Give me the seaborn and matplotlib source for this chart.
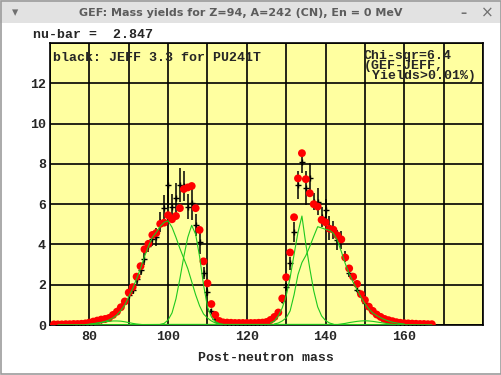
import matplotlib
matplotlib.use("Agg")
import matplotlib.pyplot as plt
import seaborn as sns
import pandas as pd
from matplotlib.patches import Rectangle

# GEF calculation (red dots)
gef_mass = list(range(71, 168))
gef_yield = [0.03, 0.03, 0.03, 0.04, 0.04, 0.05, 0.05, 0.06, 0.08, 0.12,
             0.17, 0.22, 0.27, 0.30, 0.35, 0.50, 0.66, 0.88, 1.17, 1.61,
             1.88, 2.40, 2.92, 3.76, 4.03, 4.47, 4.57, 5.02, 5.08, 5.45,
             5.25, 5.41, 5.80, 6.75, 6.83, 6.90, 5.80, 4.72, 3.16, 2.07,
             1.04, 0.50, 0.20, 0.13, 0.12, 0.11, 0.10, 0.10, 0.10, 0.10,
             0.10, 0.10, 0.11, 0.12, 0.15, 0.25, 0.40, 0.62, 1.32, 2.37,
             3.60, 5.35, 7.28, 8.53, 7.24, 6.54, 6.00, 5.88, 5.22, 5.10,
             4.78, 4.73, 4.45, 4.25, 3.35, 2.81, 2.40, 2.04, 1.53, 1.24,
             0.91, 0.70, 0.52, 0.40, 0.30, 0.24, 0.19, 0.14, 0.11, 0.09,
             0.08, 0.07, 0.06, 0.05, 0.05, 0.04, 0.04]

# JEFF 3.3 evaluation (black crosses with error bars)
jeff_mass = list(range(72, 166))
jeff_yield = [0.01, 0.01, 0.02, 0.02, 0.03, 0.03, 0.04, 0.06, 0.08, 0.12,
              0.18, 0.24, 0.30, 0.38, 0.55, 0.75, 0.95, 1.18, 1.50, 1.74,
              2.27, 2.75, 3.30, 3.90, 4.25, 4.35, 5.13, 5.80, 6.95, 5.86,
              6.30, 6.95, 6.90, 5.88, 6.08, 4.97, 4.13, 2.60, 1.65, 0.70,
              0.30, 0.20, 0.15, 0.12, 0.10, 0.08, 0.06, 0.05, 0.05, 0.05,
              0.06, 0.08, 0.10, 0.15, 0.25, 0.35, 0.66, 1.24, 1.90, 3.06,
              4.60, 6.95, 8.11, 6.80, 7.30, 6.13, 6.13, 5.38, 5.71, 4.80,
              4.72, 4.22, 4.22, 3.40, 2.57, 2.40, 1.74, 1.50, 1.08, 0.83,
              0.66, 0.50, 0.36, 0.30, 0.25, 0.20, 0.15, 0.12, 0.10, 0.08,
              0.06, 0.05, 0.04, 0.03]
jeff_err = [0.01, 0.01, 0.01, 0.01, 0.01, 0.01, 0.01, 0.01, 0.01, 0.01,
            0.02, 0.02, 0.03, 0.04, 0.05, 0.07, 0.10, 0.12, 0.15, 0.20,
            0.25, 0.25, 0.30, 0.30, 0.35, 0.45, 0.50, 0.65, 1.15, 0.65,
            0.75, 0.83, 0.75, 0.62, 0.87, 0.54, 0.62, 0.30, 0.20, 0.10,
            0.05, 0.03, 0.02, 0.02, 0.02, 0.02, 0.02, 0.02, 0.02, 0.02,
            0.02, 0.02, 0.02, 0.03, 0.04, 0.05, 0.08, 0.15, 0.20, 0.33,
            0.50, 0.70, 0.58, 0.83, 0.75, 0.40, 0.66, 0.50, 0.54, 0.60,
            0.46, 0.50, 0.46, 0.25, 0.20, 0.15, 0.12, 0.10, 0.08, 0.06,
            0.05, 0.04, 0.03, 0.03, 0.02, 0.02, 0.02, 0.02, 0.01, 0.01,
            0.01, 0.01, 0.01, 0.01]

# fission mode components (green lines)
s2_light_mass = list(range(80, 114))
s2_light = [0.03, 0.05, 0.08, 0.12, 0.18, 0.25, 0.35, 0.50, 0.72, 1.00,
            1.40, 1.80, 2.30, 2.80, 3.40, 3.90, 4.35, 4.60, 4.90, 5.10,
            5.17, 4.85, 4.35, 3.80, 3.30, 2.80, 2.15, 1.50, 0.95, 0.55,
            0.35, 0.20, 0.10, 0.05]
s1_light_mass = list(range(98, 115))
s1_light = [0.03, 0.08, 0.25, 0.60, 1.30, 2.30, 3.40, 4.35, 4.95, 4.50,
            3.40, 2.00, 0.90, 0.40, 0.17, 0.07, 0.03]
s3_light_mass = list(range(79, 95))
s3_light = [0.02, 0.04, 0.07, 0.10, 0.13, 0.16, 0.18, 0.20, 0.20, 0.19,
            0.16, 0.12, 0.08, 0.05, 0.03, 0.01]
s1_heavy_mass = list(range(126, 143))
s1_heavy = [0.10, 0.20, 0.45, 0.85, 1.45, 2.35, 3.50, 4.60, 5.41, 4.00,
            2.80, 1.70, 0.90, 0.45, 0.22, 0.10, 0.04]
s2_heavy_mass = list(range(127, 161))
s2_heavy = [0.05, 0.10, 0.20, 0.35, 0.70, 1.50, 2.50, 3.10, 3.45, 3.90,
            4.40, 4.88, 4.82, 4.75, 4.70, 4.55, 4.20, 3.65, 3.05, 2.55,
            2.12, 1.75, 1.38, 1.05, 0.80, 0.60, 0.47, 0.36, 0.27, 0.20,
            0.14, 0.10, 0.07, 0.05]
s3_heavy_mass = list(range(143, 160))
s3_heavy = [0.02, 0.05, 0.08, 0.12, 0.15, 0.18, 0.20, 0.21, 0.20, 0.18,
            0.15, 0.12, 0.09, 0.06, 0.04, 0.02, 0.01]
sl_mass = [72, 90, 100, 110, 120, 130, 140, 150, 167]
sl_yield = [0.01, 0.02, 0.03, 0.03, 0.03, 0.03, 0.03, 0.02, 0.01]

components = [(s2_light_mass, s2_light), (s1_light_mass, s1_light),
              (s3_light_mass, s3_light), (s1_heavy_mass, s1_heavy),
              (s2_heavy_mass, s2_heavy), (s3_heavy_mass, s3_heavy),
              (sl_mass, sl_yield)]

x_ticks = list(range(70, 181, 10))
x_labels = ["", "80", "", "100", "", "120", "", "140", "", "160", "", ""]
y_ticks = list(range(0, 15, 2))
y_labels = ["0", "2", "4", "6", "8", "10", "12", ""]

sns.set_style("white")
mono = {"family": "Liberation Mono", "weight": "bold", "size": 9.5}

W, H = 502, 375
fig = plt.figure(figsize=(W / 100, H / 100), dpi=100, facecolor="white")

def fx(x):
    return x / W

def fy(y):
    return 1 - y / H

# window decoration
fig.patches.append(Rectangle((0, fy(23)), 1, 23 / H, transform=fig.transFigure,
                             facecolor="#e2e2e2", edgecolor="none", zorder=0))
fig.patches.append(Rectangle((0.001, 0.002), 0.997, 0.996, transform=fig.transFigure,
                             facecolor="none", edgecolor="#9c9c9c", linewidth=1.2, zorder=5))
fig.text(fx(241), fy(13), "GEF: Mass yields for Z=94, A=242 (CN), En = 0 MeV",
         ha="center", va="center", fontsize=8, fontweight="bold", color="#5c5c5c",
         family="DejaVu Sans")
fig.text(fx(15), fy(13), "\u25be", ha="center", va="center", fontsize=9, color="#707070")
fig.text(fx(463), fy(13), "\u2013", ha="center", va="center", fontsize=9, color="#707070",
         fontweight="bold")
fig.text(fx(487), fy(13), "\u00d7", ha="center", va="center", fontsize=11, color="#707070")

ax = fig.add_axes([fx(50), 1 - 325 / H, (483 - 50) / W, (325 - 43) / H])
ax.set_facecolor("#ffffa0")

ax.errorbar(jeff_mass, jeff_yield, yerr=jeff_err, fmt="+", color="black",
            markersize=4, elinewidth=1.1, markeredgewidth=1.0, capsize=0, zorder=3)

gef = pd.DataFrame({"mass": gef_mass, "yield": gef_yield})
sns.scatterplot(data=gef, x="mass", y="yield", ax=ax, color="#ff0000", s=32,
                edgecolor="none", zorder=4)

for m, y in components:
    comp = pd.DataFrame({"mass": m, "yield": y})
    sns.lineplot(data=comp, x="mass", y="yield", ax=ax, color="#1ec81e",
                 linewidth=0.8, estimator=None, zorder=5)

ax.set_xlim(70, 180)
ax.set_ylim(0, 14)
ax.set_xticks(x_ticks)
ax.set_xticklabels(x_labels, fontdict=mono)
ax.set_yticks(y_ticks)
ax.set_yticklabels(y_labels, fontdict=mono)
ax.tick_params(axis="both", length=0)
ax.tick_params(axis="x", pad=4)
ax.tick_params(axis="y", pad=3)
ax.grid(True, color="black", linewidth=1.2)
ax.set_axisbelow(True)
for sp in ax.spines.values():
    sp.set_color("black")
    sp.set_linewidth(1.2)
ax.set_xlabel("Post-neutron mass", fontdict=mono, labelpad=7)
ax.set_ylabel("")

fig.text(fx(33), fy(35), "nu-bar =  2.847", ha="left", va="center", **mono)
fig.text(fx(53), fy(58), "black: JEFF 3.3 for PU241T", ha="left", va="center", **mono)
fig.text(fx(364), fy(50), "Chi-sqr=6.4\n(GEF-JEFF,\n Yields>0.01%)", ha="left", va="top",
         linespacing=0.8, **mono)

fig.savefig("out.png", dpi=100, facecolor="white")
